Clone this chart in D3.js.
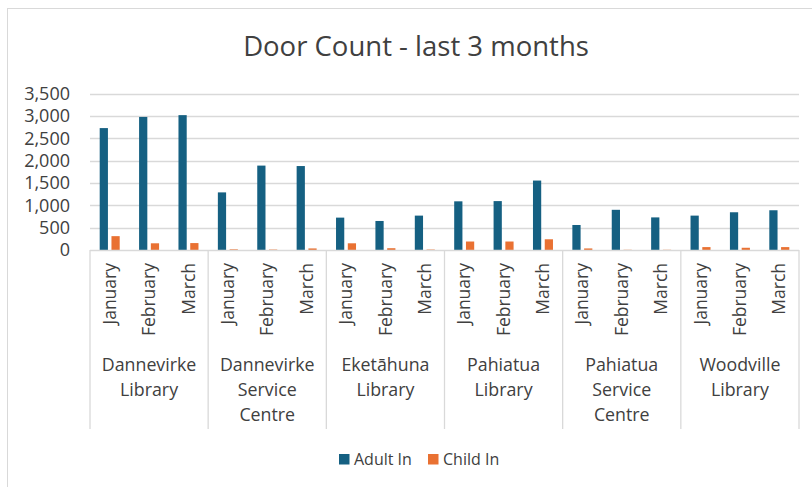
<!DOCTYPE html>
<meta charset="utf-8">
<script src="https://d3js.org/d3.v7.min.js"></script>
<style>
  body { margin: 0; background: #fff; }
  text { font-family: "Open Sans", "Noto Sans", sans-serif; fill: #404040; }
</style>
<div id="chart"></div>
<script>
// data
var months = ["January", "February", "March"];
var sites = [
  ["Dannevirke", "Library"],
  ["Dannevirke", "Service", "Centre"],
  ["Eketāhuna", "Library"],
  ["Pahiatua", "Library"],
  ["Pahiatua", "Service", "Centre"],
  ["Woodville", "Library"]
];
var adultIn = [2730, 2980, 3020, 1290, 1890, 1880, 725, 650, 770, 1090, 1095, 1555, 560, 900, 730, 770, 845, 890];
var childIn = [310, 150, 155, 15, 10, 35, 150, 40, 10, 190, 190, 240, 35, 5, 5, 65, 50, 65];
var seriesNames = ["Adult In", "Child In"];
var seriesColors = ["#156082", "#E97132"];
var yTicks = [0, 500, 1000, 1500, 2000, 2500, 3000, 3500];

var W = 812, H = 487;
var plot = { left: 90, right: 799, top: 93.7, bottom: 250 };

var svg = d3.select("#chart").append("svg")
  .attr("width", W).attr("height", H);

// chart border
svg.append("rect")
  .attr("x", 7.5).attr("y", 8.5)
  .attr("width", W).attr("height", H)
  .attr("fill", "none").attr("stroke", "#d9d9d9");

// title
svg.append("text")
  .attr("x", 416).attr("y", 56)
  .attr("text-anchor", "middle")
  .style("font-size", "27.5px")
  .text("Door Count - last 3 months");

// category keys: one per site/month
var cats = [];
sites.forEach(function (s, i) {
  months.forEach(function (m, j) { cats.push(i + "|" + m); });
});

var x = d3.scaleBand().domain(cats).range([plot.left, plot.right]).padding(0);
var xSeries = d3.scaleBand().domain(seriesNames).range([0, 20]).paddingInner(0.3);
var y = d3.scaleLinear().domain([0, 3500]).range([plot.bottom, plot.top]);

// gridlines
svg.append("g").selectAll("line")
  .data(yTicks.slice(1))
  .enter().append("line")
  .attr("x1", plot.left).attr("x2", plot.right)
  .attr("y1", function (d) { return Math.round(y(d)) + 0.5; })
  .attr("y2", function (d) { return Math.round(y(d)) + 0.5; })
  .attr("stroke", "#d9d9d9").attr("stroke-width", 1.3);

// y axis labels
svg.append("g").selectAll("text")
  .data(yTicks)
  .enter().append("text")
  .attr("x", 70)
  .attr("y", function (d) { return y(d); })
  .attr("dy", "0.35em")
  .attr("text-anchor", "end")
  .style("font-size", "18px")
  .text(function (d) { return d3.format(",")(d); });

// bars
var rows = cats.map(function (c, i) { return { cat: c, values: [adultIn[i], childIn[i]] }; });
var catG = svg.append("g").selectAll("g")
  .data(rows)
  .enter().append("g")
  .attr("transform", function (d) {
    return "translate(" + (x(d.cat) + x.bandwidth() / 2 - 10) + ",0)";
  });
catG.selectAll("rect")
  .data(function (d) { return d.values.map(function (v, k) { return { name: seriesNames[k], v: v, k: k }; }); })
  .enter().append("rect")
  .attr("x", function (d) { return xSeries(d.name); })
  .attr("width", xSeries.bandwidth())
  .attr("y", function (d) { return y(d.v); })
  .attr("height", function (d) { return plot.bottom - y(d.v); })
  .attr("fill", function (d) { return seriesColors[d.k]; });

// x axis line and group separators
svg.append("line")
  .attr("x1", plot.left).attr("x2", plot.right)
  .attr("y1", plot.bottom + 0.5).attr("y2", plot.bottom + 0.5)
  .attr("stroke", "#d9d9d9").attr("stroke-width", 1.3);

var groupW = (plot.right - plot.left) / sites.length;
svg.append("g").selectAll("line")
  .data(d3.range(sites.length + 1))
  .enter().append("line")
  .attr("x1", function (i) { return plot.left + i * groupW; })
  .attr("x2", function (i) { return plot.left + i * groupW; })
  .attr("y1", plot.bottom).attr("y2", 429)
  .attr("stroke", "#d9d9d9").attr("stroke-width", 1.3);

// month labels (rotated)
svg.append("g").selectAll("text")
  .data(cats)
  .enter().append("text")
  .attr("transform", function (d) {
    return "translate(" + (x(d) + x.bandwidth() / 2) + ",263) rotate(-90)";
  })
  .attr("dy", "0.35em")
  .attr("text-anchor", "end")
  .style("font-size", "17.5px")
  .text(function (d) { return d.split("|")[1]; });

// site labels
var siteText = svg.append("g").selectAll("text")
  .data(sites)
  .enter().append("text")
  .attr("text-anchor", "middle")
  .style("font-size", "17.8px");
siteText.selectAll("tspan")
  .data(function (d, i) { return d.map(function (w) { return { w: w, i: i }; }); })
  .enter().append("tspan")
  .attr("x", function (d) { return plot.left + (d.i + 0.5) * groupW; })
  .attr("y", function (d, j) { return 371 + j * 25; })
  .text(function (d) { return d.w; });

// legend
var legend = svg.append("g");
var legendX = [339, 428];
seriesNames.forEach(function (n, k) {
  legend.append("rect")
    .attr("x", legendX[k]).attr("y", 454)
    .attr("width", 10.5).attr("height", 10.5)
    .attr("fill", seriesColors[k]);
  legend.append("text")
    .attr("x", legendX[k] + 15).attr("y", 459.5)
    .attr("dy", "0.35em")
    .style("font-size", "16px")
    .text(n);
});
</script>
